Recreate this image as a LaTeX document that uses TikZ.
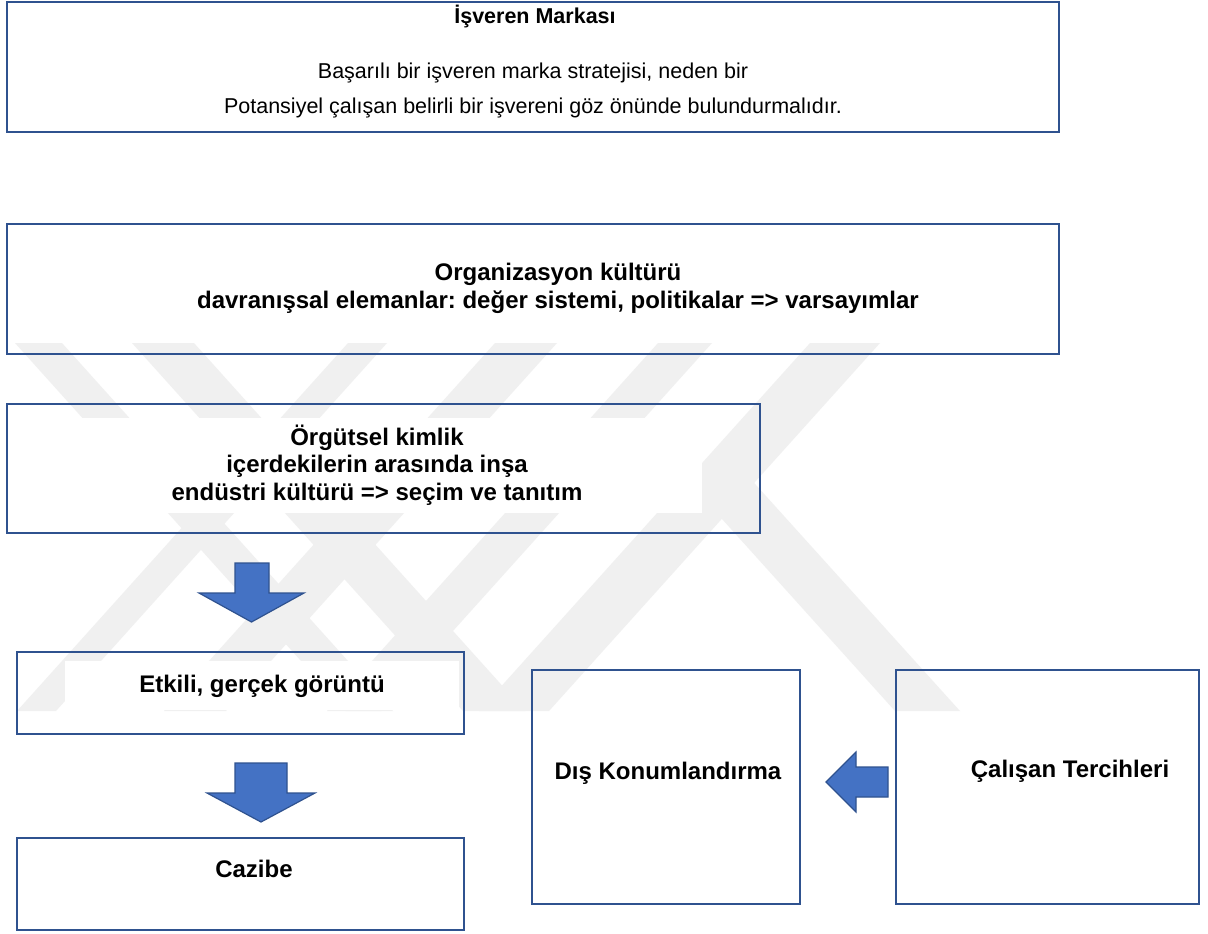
\documentclass[tikz,border=0pt]{standalone}
\usepackage{fontspec}
\setmainfont{Liberation Sans}
\frenchspacing
\definecolor{frameblue}{HTML}{2F528F}
\definecolor{arrowfill}{HTML}{4472C4}
\definecolor{markgray}{RGB}{240,240,240}
\tikzset{
  framebox/.style={draw=frameblue, line width=1.35pt, rectangle, inner sep=0pt},
  smalltext/.style={font=\fontsize{10.75}{13}\selectfont, inner sep=0pt},
  boldtext/.style={font=\bfseries\fontsize{12}{13.8}\selectfont, align=center, inner sep=0pt},
  blockarrow/.style={fill=arrowfill, draw=frameblue, line width=0.6pt, line join=miter},
  band/.style={fill=markgray, draw=none}
}
\begin{document}
\begin{tikzpicture}[x=0.5pt, y=-0.5pt]
\useasboundingbox (0,0) rectangle (1208,933);
\fill[white] (0,0) rectangle (1208,933);

% faint striped emblem in the background
\begin{scope}
  \clip (0,343) rectangle (1208,711);
  \fill[band] (15,343) -- (62,343) -- (393,711) -- (346,711) -- cycle;
  \fill[band] (132,343) -- (194,343) -- (525,711) -- (463,711) -- cycle;
  \fill[band] (348,343) -- (387,343) -- (56,711) -- (17,711) -- cycle;
  \fill[band] (495,343) -- (557,343) -- (226,711) -- (164,711) -- cycle;
  \fill[band] (658,343) -- (712,343) -- (381,711) -- (327,711) -- cycle;
  \fill[band] (810,343) -- (880,343) -- (549,711) -- (479,711) -- cycle;
  \fill[band] (719,444) -- (960,711) -- (895,711) -- (722,519) -- cycle;
\end{scope}

% frames
\node[framebox, minimum width=526pt, minimum height=65pt] (brand) at (533,67) {};
\node[framebox, minimum width=526pt, minimum height=65pt] (culture) at (533,289) {};
\node[framebox, minimum width=376.5pt, minimum height=64.5pt] (identity) at (383.5,468.5) {};
\node[framebox, minimum width=223.5pt, minimum height=41pt] (image) at (240.5,693) {};
\node[framebox, minimum width=223.5pt, minimum height=46pt] (appeal) at (240.5,884) {};
\node[framebox, minimum width=134pt, minimum height=117pt] (outer) at (666,787) {};
\node[framebox, minimum width=151.5pt, minimum height=117pt] (prefs) at (1047.5,787) {};

% texts
\node[smalltext, font=\bfseries\fontsize{10.75}{13}\selectfont, anchor=base] (brandtitle) at (535,23) {İşveren Markası};
\node[smalltext, anchor=base] (brandline1) at (533,78) {Başarılı bir işveren marka stratejisi, neden bir};
\node[smalltext, anchor=base] (brandline2) at (533,113) {Potansiyel çalışan belirli bir işvereni göz önünde bulundurmalıdır.};

\node[boldtext] (culturetext) at (558,288.5) {Organizasyon kültürü\\davranışsal elemanlar: değer sistemi, politikalar => varsayımlar};

\node[boldtext, fill=white, minimum width=325pt, minimum height=47.5pt] (identitytext) at (377,465)
  {Örgütsel kimlik\\içerdekilerin arasında inşa\\endüstri kültürü => seçim ve tanıtım};

\node[boldtext, fill=white, anchor=base, minimum width=197pt, minimum height=24.5pt] (imagetext) at (262,692) {Etkili, gerçek görüntü};
\node[boldtext, anchor=base] (appealtext) at (254,877) {Cazibe};
\node[boldtext, anchor=base] (outertext) at (668,779) {Dış Konumlandırma};
\node[boldtext, anchor=base] (prefstext) at (1070,777) {Çalışan Tercihleri};

% block arrows
\draw[blockarrow] (235,563) -- (269,563) -- (269,593) -- (304,593) -- (251.5,622)
  -- (199,593) -- (235,593) -- cycle;
\draw[blockarrow] (235,763) -- (287,763) -- (287,793) -- (315,793) -- (261,822)
  -- (207,793) -- (235,793) -- cycle;
\draw[blockarrow] (888,767) -- (888,797) -- (856,797) -- (856,812) -- (826,782)
  -- (856,752) -- (856,767) -- cycle;
\end{tikzpicture}
\end{document}
